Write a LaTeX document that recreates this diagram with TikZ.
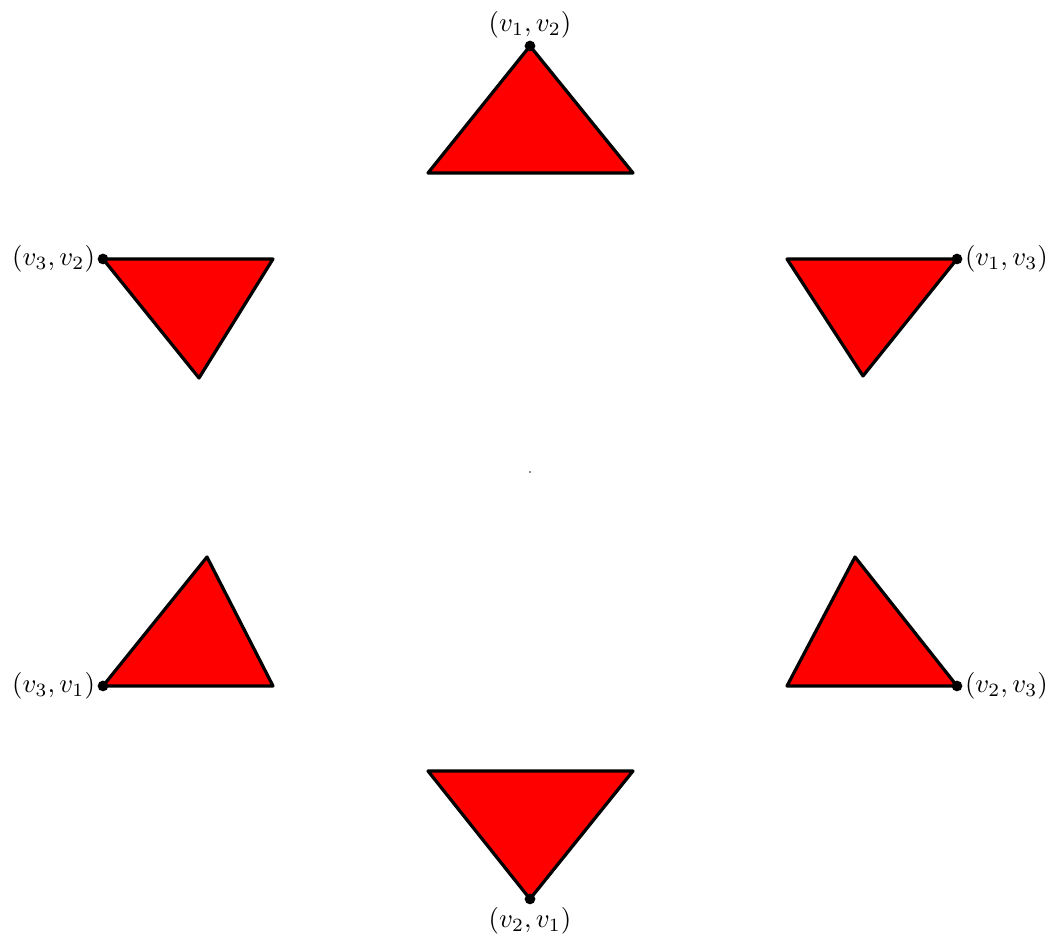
\documentclass[tikz,border=0pt]{standalone}
\usepackage{amsmath, amssymb}
\usepackage{tikz}
\usetikzlibrary{positioning}

\begin{document}
\begin{tikzpicture}[x=0.0131cm, y=-0.0131cm,
    tri/.style={draw=black, line width=1.2pt, fill=red, line join=round},
    vdot/.style={circle, fill=black, inner sep=0pt, minimum size=4pt}]
  \useasboundingbox (0,0) rectangle (1048,936);
  % centre mark
  \coordinate (o) at (530,472);
  \fill[black!60] (o) circle (0.4pt);
  % the six triangles; first vertex carries the label
  \foreach \n/\p/\q/\r/\a/\l in {t/{530,46}/{428,173}/{633,173}/above/{(v_1,v_2)},
                                  ul/{103,259}/{273,259}/{199,378}/left/{(v_3,v_2)},
                                  ur/{957,259}/{787,259}/{863,376}/right/{(v_1,v_3)},
                                  ll/{103,686}/{273,686}/{207,557}/left/{(v_3,v_1)},
                                  lr/{957,686}/{787,686}/{855,557}/right/{(v_2,v_3)},
                                  b/{530,899}/{633,771}/{428,771}/below/{(v_2,v_1)}} {
    \coordinate (\n1) at (\p);
    \coordinate (\n2) at (\q);
    \coordinate (\n3) at (\r);
    \draw[tri] (\n1) -- (\n2) -- (\n3) -- cycle;
    \node[vdot, label={[inner sep=0.6pt]\a:$\l$}] (\n) at (\n1) {};
  }
\end{tikzpicture}
\end{document}
